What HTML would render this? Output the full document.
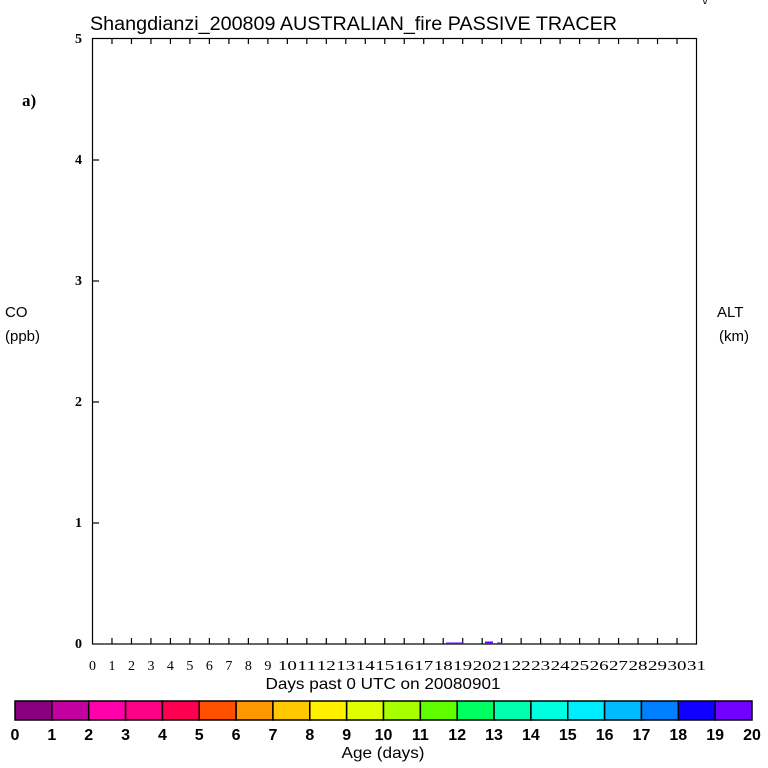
<!DOCTYPE html>
<html><head><meta charset="utf-8"><style>
html,body{margin:0;padding:0;background:#fff;}
svg{display:block;}
</style></head><body>
<svg width="768" height="768" xmlns="http://www.w3.org/2000/svg">
<rect width="768" height="768" fill="#fff"/>
<text x="90" y="30" font-family="Liberation Sans, sans-serif" font-size="19" textLength="527" lengthAdjust="spacingAndGlyphs" fill="#000">Shangdianzi_200809 AUSTRALIAN_fire PASSIVE TRACER</text>
<text x="702" y="4" font-family="Liberation Sans, sans-serif" font-size="11" fill="#000">\/</text>
<text x="22" y="106" font-family="Liberation Serif, serif" font-weight="bold" font-size="17" fill="#000">a)</text>
<text x="5" y="317" font-family="Liberation Sans, sans-serif" font-size="15" fill="#000">CO</text>
<text x="5" y="341" font-family="Liberation Sans, sans-serif" font-size="15" fill="#000">(ppb)</text>
<text x="717" y="317" font-family="Liberation Sans, sans-serif" font-size="15" fill="#000">ALT</text>
<text x="719" y="341" font-family="Liberation Sans, sans-serif" font-size="15" fill="#000">(km)</text>
<g font-family="Liberation Serif, serif" font-weight="bold" font-size="14" fill="#000" text-anchor="end">
<text x="82" y="648">0</text><text x="82" y="527">1</text><text x="82" y="406">2</text><text x="82" y="285">3</text><text x="82" y="164">4</text><text x="82" y="43">5</text>
</g>
<rect x="92.5" y="38.5" width="604" height="605.5" fill="none" stroke="#000" stroke-width="1.2"/>
<g stroke="#000" stroke-width="1.2">
<line x1="92" y1="523" x2="99" y2="523"/><line x1="92" y1="402" x2="99" y2="402"/><line x1="92" y1="281" x2="99" y2="281"/><line x1="92" y1="160" x2="99" y2="160"/>
</g>
<g id="t" stroke="#000" stroke-width="1.2"></g>
<g fill="#6a00ff">
<rect x="446" y="642.5" width="17" height="1.5"/>
<rect x="485" y="641.5" width="8" height="2.5"/>
<rect x="497" y="642.5" width="5" height="1.5"/>
</g>
<g id="xl" font-family="Liberation Serif, serif" font-size="14" fill="#000" text-anchor="middle"></g>
<text x="383" y="689" text-anchor="middle" font-family="Liberation Sans, sans-serif" font-size="16" textLength="235" lengthAdjust="spacingAndGlyphs" fill="#000">Days past 0 UTC on 20080901</text>
<g id="cb"></g>
<g id="cl" font-family="Liberation Sans, sans-serif" font-weight="bold" font-size="16" fill="#000" text-anchor="middle"></g>
<text x="383" y="758" text-anchor="middle" font-family="Liberation Sans, sans-serif" font-size="16" textLength="83" lengthAdjust="spacingAndGlyphs" fill="#000">Age (days)</text>
<script>
var ns="http://www.w3.org/2000/svg";
var t=document.getElementById('t'),xl=document.getElementById('xl');
for(var i=0;i<=31;i++){var x=92.5+i*(604/31);
 if(i>0&&i<31){[[38,44],[638,644]].forEach(function(p){var l=document.createElementNS(ns,'line');l.setAttribute('x1',x);l.setAttribute('x2',x);l.setAttribute('y1',p[0]);l.setAttribute('y2',p[1]);t.appendChild(l);});}
 var tx=document.createElementNS(ns,'text');tx.setAttribute('x',x);tx.setAttribute('y',670);tx.textContent=i;
 if(i>=10){tx.setAttribute('textLength','19');tx.setAttribute('lengthAdjust','spacingAndGlyphs');}
 xl.appendChild(tx);}
var cols=['#880080','#c400a0','#ff00aa','#ff0088','#ff0050','#ff5000','#ff9800','#ffc800','#fff000','#e0ff00','#a8ff00','#60ff00','#00ff60','#00ffb0','#00ffe0','#00ecff','#00bcff','#0080ff','#1000ff','#7000ff'];
var cb=document.getElementById('cb'),cl=document.getElementById('cl');var w=(752-15)/20;
for(var i=0;i<20;i++){var r=document.createElementNS(ns,'rect');r.setAttribute('x',15+i*w);r.setAttribute('y',701);r.setAttribute('width',w);r.setAttribute('height',19);r.setAttribute('fill',cols[i]);r.setAttribute('stroke','#000');r.setAttribute('stroke-width','1.5');cb.appendChild(r);}
for(var i=0;i<=20;i++){var tx=document.createElementNS(ns,'text');tx.setAttribute('x',15+i*w);tx.setAttribute('y',740);tx.textContent=i;cl.appendChild(tx);}
</script>
</svg>
</body></html>
